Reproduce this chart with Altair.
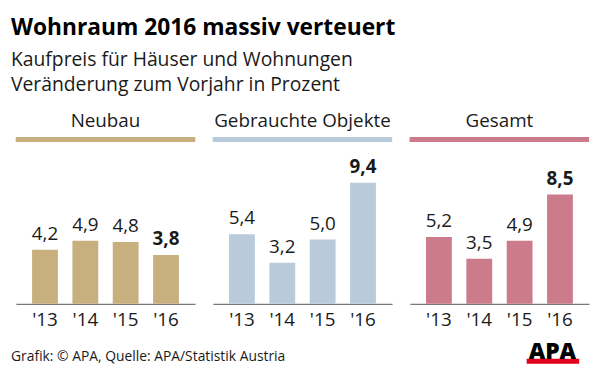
import altair as alt
import pandas as pd

# ---- data ----
years = ["'13", "'14", "'15", "'16"]
neubau = [4.2, 4.9, 4.8, 3.8]
gebraucht = [5.4, 3.2, 5.0, 9.4]
gesamt = [5.2, 3.5, 4.9, 8.5]
categories = ["Neubau", "Gebrauchte Objekte", "Gesamt"]
colors = ["#c8b07e", "#b9cadb", "#cc7b8b"]

title_text = "Wohnraum 2016 massiv verteuert"
subtitle_lines = ["Kaufpreis für Häuser und Wohnungen", "Veränderung zum Vorjahr in Prozent"]
footer_text = ["Grafik: © APA, Quelle: APA/Statistik Austria"]
logo_text = ["APA"]

rows = []
for cat, vals in zip(categories, [neubau, gebraucht, gesamt]):
    for y, v in zip(years, vals):
        rows.append({"cat": cat, "year": y, "value": v, "label": f"{v:.1f}".replace(".", ",")})
df = pd.DataFrame(rows)

FONT = "Open Sans"
TXT = "#1a1a1a"
W = 181
H = 166


def panel(cat, color):
    base = alt.Chart(df).transform_filter(alt.datum.cat == cat)
    x = alt.X("year:N", sort=years, title=None,
              scale=alt.Scale(paddingInner=0.36, paddingOuter=0.4),
              axis=alt.Axis(labelAngle=0, ticks=False, tickSize=0, domainColor="#555",
                            domainWidth=1, labelFontSize=19, labelFont=FONT,
                            labelColor=TXT, labelPadding=7))
    y = alt.Y("value:Q", scale=alt.Scale(domain=[0, 12.77], nice=False), axis=None)
    bars = base.mark_bar(color=color).encode(x=x, y=y)
    txt = base.transform_filter(alt.datum.year != "'16").mark_text(
        baseline="alphabetic", dy=-10, fontSize=19, font=FONT, color=TXT
    ).encode(x=x, y=y, text="label:N")
    txt_b = base.transform_filter(alt.datum.year == "'16").mark_text(
        baseline="alphabetic", dy=-10, fontSize=19, font=FONT, fontWeight="bold", color=TXT
    ).encode(x=x, y=y, text="label:N")
    head = base.mark_rule(color=color, strokeWidth=5).encode(
        x=alt.value(0), x2=alt.value(W), y=alt.value(0))
    return alt.layer(bars, txt, txt_b, head).properties(
        width=W, height=H,
        title=alt.TitleParams(text=cat, fontSize=19, font=FONT, fontWeight="normal",
                              color=TXT, offset=6, anchor="middle"))


panels = alt.hconcat(*[panel(c, col) for c, col in zip(categories, colors)], spacing=12)

foot_df = pd.DataFrame({"t": footer_text})
logo_df = pd.DataFrame({"t": logo_text})
foot = alt.Chart(foot_df).mark_text(align="left", baseline="alphabetic", fontSize=14,
                                    font=FONT, color=TXT).encode(
    x=alt.value(-5), y=alt.value(24), text="t:N")
logo = alt.Chart(logo_df).mark_text(align="center", baseline="alphabetic", fontSize=23,
                                    font=FONT, fontWeight=800, color="#000").encode(
    x=alt.value(542), y=alt.value(22), text="t:N")
redbar = alt.Chart(logo_df).mark_rect(color="#e2001a").encode(
    x=alt.value(516), x2=alt.value(569), y=alt.value(21.5), y2=alt.value(26.5))
footer = alt.layer(foot, redbar, logo).properties(width=W * 3 + 24, height=30)

chart = alt.vconcat(panels, footer, spacing=8).properties(
    padding={"left": 3, "top": 7, "right": 0, "bottom": 0},
    title=alt.TitleParams(text=title_text, subtitle=subtitle_lines, anchor="start",
                          fontSize=23, font=FONT, fontWeight="bold", color="#000",
                          subtitleFont=FONT, subtitleFontSize=19.5, subtitleColor=TXT,
                          subtitlePadding=12, subtitleLineHeight=25, dx=0, offset=18)
).configure(background="white").configure_view(stroke=None)

chart.save("out.html", embed_options={"renderer": "svg", "actions": False})
